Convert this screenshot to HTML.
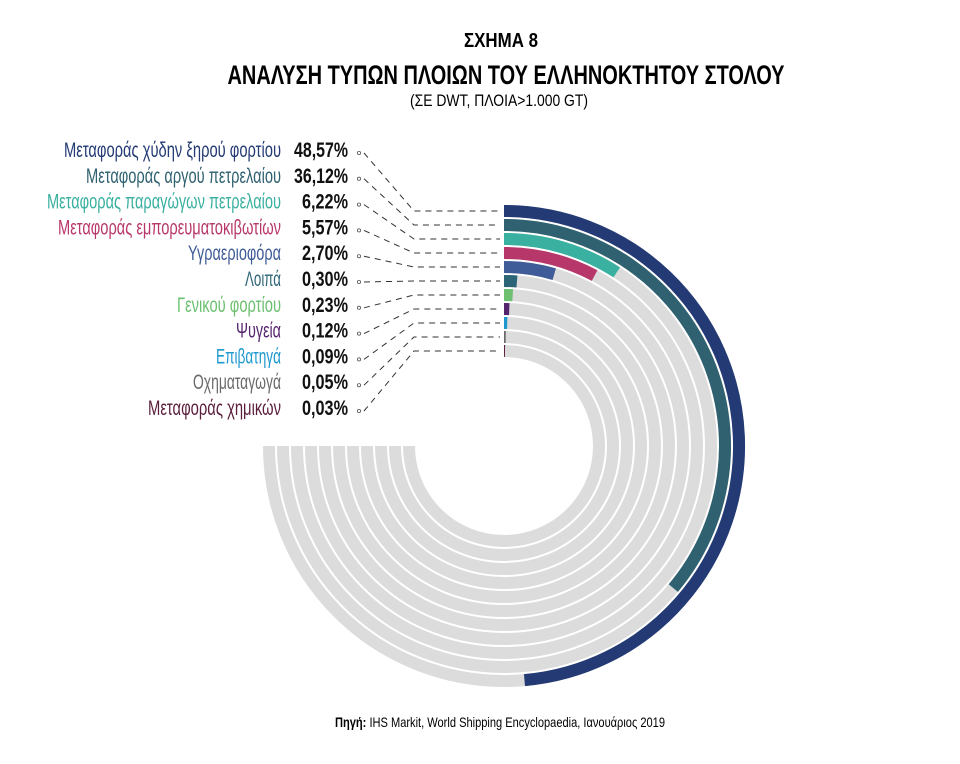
<!DOCTYPE html>
<html><head><meta charset="utf-8"><style>
html,body{margin:0;padding:0;background:#fff;}
svg{display:block;font-family:"Liberation Sans Narrow","Liberation Sans",sans-serif;}
</style></head><body>
<svg id="s" width="960" height="764" viewBox="0 0 960 764" xmlns="http://www.w3.org/2000/svg">
<text x="501" y="47" text-anchor="middle" font-size="20" font-weight="bold" fill="#000" textLength="74" lengthAdjust="spacingAndGlyphs">ΣΧΗΜΑ 8</text>
<text x="506" y="84" text-anchor="middle" font-size="27" font-weight="bold" fill="#000" textLength="557" lengthAdjust="spacingAndGlyphs">ΑΝΑΛΥΣΗ ΤΥΠΩΝ ΠΛΟΙΩΝ ΤΟΥ ΕΛΛΗΝΟΚΤΗΤΟΥ ΣΤΟΛΟΥ</text>
<text x="499" y="106" text-anchor="middle" font-size="17" fill="#000" textLength="178" lengthAdjust="spacingAndGlyphs">(ΣΕ DWT, ΠΛΟΙΑ&gt;1.000 GT)</text>
<text x="500" y="727" text-anchor="middle" font-size="14" fill="#000" textLength="330" lengthAdjust="spacingAndGlyphs"><tspan font-weight="bold">Πηγή:</tspan> IHS Markit, World Shipping Encyclopaedia, Ιανουάριος 2019</text>
<g id="g"></g>
</svg>
<script>
var data=[
["Μεταφοράς χύδην ξηρού φορτίου","48,57%",175,"#233a75",217],
["Μεταφοράς αργού πετρελαίου","36,12%",130,"#2f6170",195],
["Μεταφοράς παραγώγων πετρελαίου","6,22%",33,"#39b0a0",234],
["Μεταφοράς εμπορευματοκιβωτίων","5,57%",28,"#b8376a",223],
["Υγραεριοφόρα","2,70%",16.3,"#3f5c98",93],
["Λοιπά","0,30%",4.5,"#2c6577",36],
["Γενικού φορτίου","0,23%",3.3,"#6cc070",104],
["Ψυγεία","0,12%",2.2,"#55246e",45],
["Επιβατηγά","0,09%",1.5,"#1d98cf",65],
["Οχηματαγωγά","0,05%",0.9,"#6a6a6a",88],
["Μεταφοράς χημικών","0,03%",0.6,"#5a1d3c",133]];
var cx=504,cy=446,h="";
function arc(r,a0,a1){var p=function(a){a=a*Math.PI/180;return (cx+r*Math.sin(a)).toFixed(2)+" "+(cy-r*Math.cos(a)).toFixed(2);};
return "M"+p(a0)+" A"+r+" "+r+" 0 "+((a1-a0)>180?1:0)+" 1 "+p(a1);}
data.forEach(function(d,i){
 var r=235-14*i, ly=150+25.8*i, ry=cy-r;
 var col=d[3];
 h+='<path d="'+arc(r,0,270)+'" stroke="#dcdcdd" stroke-width="12" fill="none"/>';
 h+='<path d="'+arc(r,0,d[2])+'" stroke="'+col+'" stroke-width="12" fill="none"/>';
 h+='<text x="281" y="'+(ly+7)+'" text-anchor="end" font-size="21" fill="'+col+'" textLength="'+d[4]+'" lengthAdjust="spacingAndGlyphs">'+d[0]+'</text>';
 var pw=d[1].length==6?54:46;
 h+='<text x="348" y="'+(ly+7)+'" text-anchor="end" font-size="21" font-weight="bold" fill="#111" textLength="'+pw+'" lengthAdjust="spacingAndGlyphs">'+d[1]+'</text>';
 h+='<circle cx="359" cy="'+(ly+3)+'" r="1.6" fill="none" stroke="#555" stroke-width="0.8"/>';
 h+='<path d="M364 '+(ly+3)+' L414 '+ry+' L500 '+ry+'" stroke="#333" stroke-width="1" stroke-dasharray="6,5" fill="none"/>';
});
document.getElementById("g").innerHTML=h;
</script>
</body></html>
